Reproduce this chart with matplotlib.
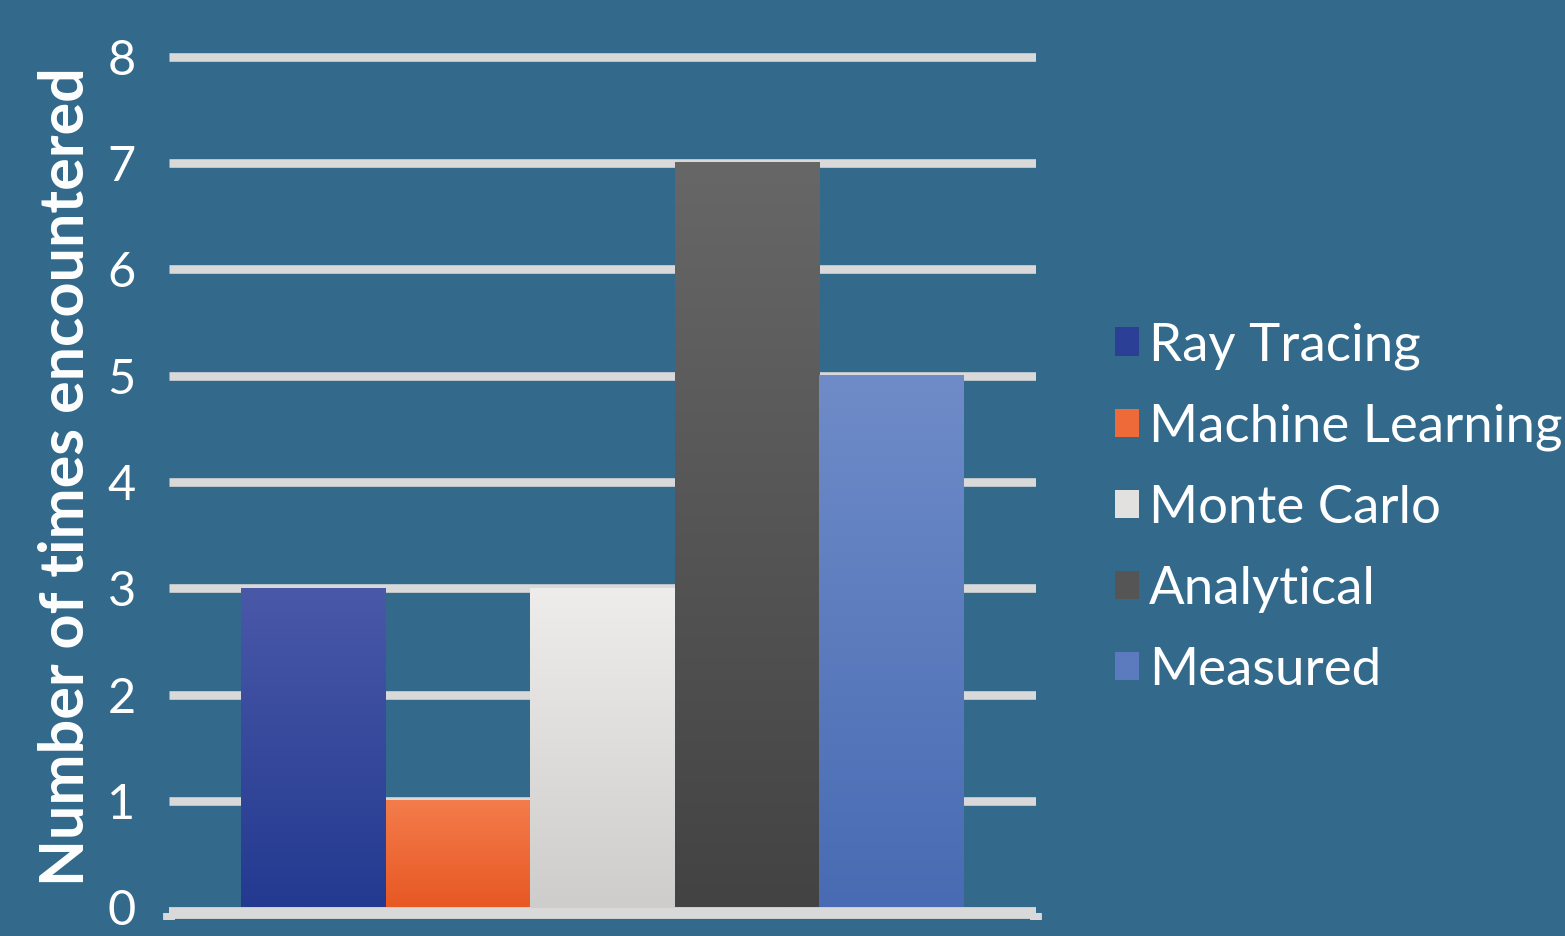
import numpy as np
import matplotlib
matplotlib.use('Agg')
import matplotlib.pyplot as plt
from matplotlib.colors import LinearSegmentedColormap
from matplotlib.patches import Patch

# data
methods = ['Ray Tracing', 'Machine Learning', 'Monte Carlo', 'Analytical', 'Measured']
counts = [3, 1, 3, 7, 5]
# gradient colours (top, bottom) per bar
grad_top = ['#4a58a8', '#f47c4c', '#eeedec', '#676767', '#6f8cc8']
grad_bot = ['#233a90', '#e75823', '#cfcdcb', '#434343', '#486bb3']
mid_col = ['#2b3f96', '#ee6a38', '#e2e1df', '#555555', '#5b7bbe']

bg = '#336a8c'
grid_col = '#d9d9d9'

plt.rcParams['font.family'] = ['Lato', 'DejaVu Sans']

fig = plt.figure(figsize=(15.65, 9.36), dpi=100, facecolor=bg)
ax = fig.add_axes([0.108, 0.0305, 0.554, 8.1 * 0.1136])
ax.set_facecolor(bg)

x = np.arange(len(methods)) - 2
bars = ax.bar(x, counts, width=1.0, color='none', edgecolor='none', zorder=3)

# fill each bar with a vertical gradient
grad = np.linspace(1, 0, 256).reshape(-1, 1)
for b, top, bot in zip(bars, grad_top, grad_bot):
    cmap = LinearSegmentedColormap.from_list('g', [bot, top])
    x0, w, h = b.get_x(), b.get_width(), b.get_height()
    ax.imshow(grad, extent=[x0, x0 + w, 0, h], aspect='auto', cmap=cmap,
              vmin=0, vmax=1, zorder=3)

ax.set_xlim(-3, 3)
ax.set_ylim(0, 8.1)
ax.set_yticks(range(0, 9))

for yv in range(1, 9):
    ax.axhline(yv, color=grid_col, lw=6.2, zorder=1, solid_capstyle='butt')

for s in ['top', 'right', 'left']:
    ax.spines[s].set_visible(False)
ax.spines['bottom'].set_color(grid_col)
ax.spines['bottom'].set_linewidth(8.5)
ax.spines['bottom'].set_position(('outward', 4))
ax.spines['bottom'].set_capstyle('butt')

ax.set_xticks([-3, 3])
ax.set_xticklabels(['', ''])
ax.tick_params(axis='x', length=5, width=8.5, color=grid_col, direction='out')
ax.tick_params(axis='y', length=0, pad=24, labelsize=35, labelcolor='white')

ax.set_ylabel('Number of times encountered', fontsize=44, fontweight='bold',
              color='white', labelpad=10)

handles = [Patch(facecolor=c, edgecolor='none') for c in mid_col]
leg = fig.legend(handles, methods, loc='center left',
                 bbox_to_anchor=(1115 / 1565, 1 - 508 / 936),
                 frameon=False, fontsize=38, labelcolor='white',
                 handlelength=0.45, handleheight=0.45, handletextpad=0.2,
                 labelspacing=0.64, borderaxespad=0, borderpad=0)

fig.savefig('out.png', dpi=100, facecolor=bg)
